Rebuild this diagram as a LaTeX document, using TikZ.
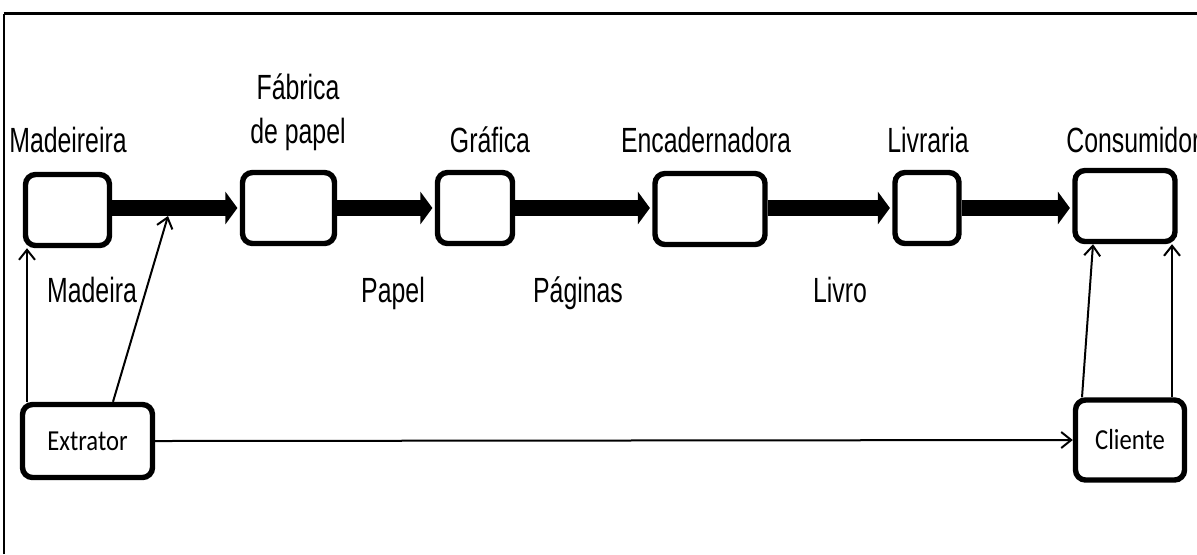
\documentclass[tikz,border=0pt]{standalone}
\usepackage{fontspec}
\setmainfont{Liberation Sans}
\newfontfamily\narrowfont[FakeStretch=0.71]{Liberation Sans}
\newfontfamily\calfont[FakeStretch=0.85]{Carlito}
\usetikzlibrary{arrows.meta,calc}
\begin{document}
\begin{tikzpicture}[x=0.5pt,y=-0.5pt,
  box/.style={draw,line width=2.7pt,rounded corners=5pt,minimum height=35.5pt,inner sep=0pt,fill=white},
  lbl/.style={inner sep=0pt,font=\narrowfont\fontsize{17.5}{22}\selectfont},
  inlbl/.style={font=\calfont\fontsize{14.5}{16}\selectfont},
  flow/.style={line width=7.8pt,-{Triangle[length=6pt,width=16pt]},shorten >=1.2pt},
  thinarrow/.style={line width=1pt,-{Straight Barb[length=5pt,width=8pt]}}]
\useasboundingbox (0,0) rectangle (1197,554);
% outer frame (cropped)
\draw[line width=1pt] (4,554) -- (4,13.5);
\draw[line width=1.5pt] (3.5,13.5) -- (1197,13.5);

% boxes
\node[box,minimum width=42pt] (mad) at (67.5,210) {};
\node[box,minimum width=46pt] (fab) at (288.5,208) {};
\node[box,minimum width=37.5pt] (gra) at (475,208) {};
\node[box,minimum width=55pt] (enc) at (710,209) {};
\node[box,minimum width=32pt] (liv) at (927,208) {};
\node[box,minimum width=50pt] (con) at (1125,206) {};
\node[box,minimum width=65pt,minimum height=36.5pt,inlbl] (ext) at (87.5,441) {Extrator};
\node[box,minimum width=54.5pt,minimum height=40pt,inlbl] (cli) at (1130,440) {Cliente};

% top labels
\node[lbl,anchor=base] (tmad) at (68,152) {Madeireira};
\node[lbl,align=center] (tfab) at (298,112) {Fábrica\\de papel};
\node[lbl,anchor=base] (tgra) at (490,152) {Gráfica};
\node[lbl,anchor=base] (tenc) at (706,152) {Encadernadora};
\node[lbl,anchor=base] (tliv) at (928,152) {Livraria};
\node[lbl,anchor=base west] (tcon) at (1066,152) {Consumidor};

% flow labels
\node[lbl,anchor=base] (lmad) at (92,302) {Madeira};
\node[lbl,anchor=base] (lpap) at (393,302) {Papel};
\node[lbl,anchor=base] (lpag) at (578,302) {Páginas};
\node[lbl,anchor=base] (lliv) at (840,302) {Livro};

% thick flow arrows
\draw[flow] (mad.east |- 0,208) -- (fab.west |- 0,208);
\draw[flow] (fab.east |- 0,208) -- (gra.west |- 0,208);
\draw[flow] (gra.east |- 0,208) -- (enc.west |- 0,208);
\draw[flow] (enc.east |- 0,208) -- (liv.west |- 0,208);
\draw[flow] (liv.east |- 0,208) -- (con.west |- 0,208);

% thin arrows
\coordinate (hit) at (168,216);
\draw[thinarrow] (ext.north -| 27,0) -- (mad.south -| 27,0);
\draw[thinarrow] (ext.north -| 113,0) -- (hit);
\draw[thinarrow] (ext.east) -- (cli.west);
\draw[thinarrow] (cli.north -| 1082,0) -- (con.south -| 1093,0);
\draw[thinarrow] (cli.north -| 1172,0) -- (con.south -| 1172,0);
\end{tikzpicture}
\end{document}
